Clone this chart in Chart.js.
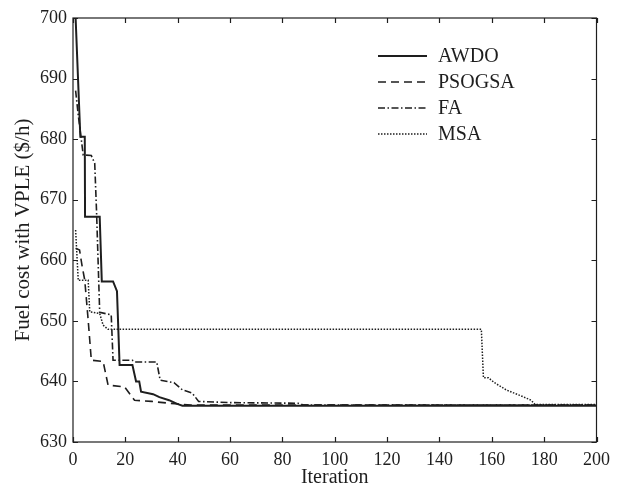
<!DOCTYPE html>
<html>
<head>
<meta charset="utf-8">
<script src="https://cdn.jsdelivr.net/npm/chart.js@4/dist/chart.umd.min.js"></script>
<style>
  html, body { margin: 0; padding: 0; background: #fff; }
</style>
</head>
<body>
<canvas id="chart" width="617" height="487"></canvas>
<script>
// convergence curves (iteration, fuel cost $/h)
const seriesNames = ["AWDO", "PSOGSA", "FA", "MSA"];

const awdoIter = [1, 2.8, 4.5, 4.6, 10.2, 11, 15.3, 16.8, 17.8, 22.7, 24.1, 25.3, 26, 30.6, 33, 36.7, 39.8, 41.8, 200];
const awdoCost = [700, 680.4, 680.4, 667.2, 667.2, 656.5, 656.5, 654.9, 642.7, 642.7, 640, 640, 638.3, 637.9, 637.4, 636.9, 636.3, 636.0, 636.0];

const psoIter = [1, 2.5, 3.5, 4.5, 5.8, 7, 11.5, 13.4, 19.7, 23.5, 30, 36.7, 45, 200];
const psoCost = [662, 661.7, 659, 656.7, 650.1, 643.5, 643.3, 639.4, 639.1, 636.9, 636.7, 636.4, 636.1, 636.1];

const faIter = [1, 2, 3.9, 7, 8.3, 9, 10.2, 14.6, 15.3, 22.7, 23.5, 32, 33.3, 38.6, 41.8, 45.5, 48, 60, 86, 88, 200];
const faCost = [688, 684, 677.4, 677.3, 676, 668, 651.4, 651, 643.5, 643.5, 643.2, 643.2, 640.2, 639.8, 638.6, 638.1, 636.7, 636.5, 636.4, 636.1, 636.1];

const msaIter = [1, 2, 5.8, 6.4, 10.2, 11.5, 13.4, 156, 156.8, 158.7, 161, 165.5, 171.8, 175, 176.5, 200];
const msaCost = [665, 656.7, 656.7, 651.5, 651.2, 649.3, 648.6, 648.6, 640.6, 640.6, 639.8, 638.6, 637.5, 636.9, 636.2, 636.2];

const xTicks = [0, 20, 40, 60, 80, 100, 120, 140, 160, 180, 200];
const yTicks = [630, 640, 650, 660, 670, 680, 690, 700];

const FONT = "'Liberation Serif', 'DejaVu Serif', serif";
const INK = "#1e1e1e";

const pts = (xs, ys) => xs.map((v, i) => ({ x: v, y: ys[i] }));

// frame with inward ticks on all four sides + legend box in the corner
const framePlugin = {
  id: "frame",
  afterDatasetsDraw(chart) {
    const { ctx, chartArea: a, scales: { x, y } } = chart;
    ctx.save();
    ctx.strokeStyle = INK;
    ctx.lineWidth = 1.2;
    ctx.strokeRect(a.left, a.top, a.right - a.left, a.bottom - a.top);

    const len = 5;
    ctx.beginPath();
    xTicks.forEach((v) => {
      const px = Math.round(x.getPixelForValue(v)) + 0.5;
      ctx.moveTo(px, a.bottom); ctx.lineTo(px, a.bottom - len);
      ctx.moveTo(px, a.top); ctx.lineTo(px, a.top + len);
    });
    yTicks.forEach((v) => {
      const py = Math.round(y.getPixelForValue(v)) + 0.5;
      ctx.moveTo(a.left, py); ctx.lineTo(a.left + len, py);
      ctx.moveTo(a.right, py); ctx.lineTo(a.right - len, py);
    });
    ctx.stroke();

    // legend
    ctx.font = "20px " + FONT;
    ctx.textBaseline = "middle";
    ctx.fillStyle = INK;
    chart.data.datasets.forEach((ds, i) => {
      const ly = 56 + i * 26;
      ctx.beginPath();
      ctx.lineWidth = ds.borderWidth;
      ctx.setLineDash(ds.borderDash || []);
      ctx.moveTo(378, ly);
      ctx.lineTo(427, ly);
      ctx.stroke();
      ctx.setLineDash([]);
      ctx.fillText(ds.label, 438, ly + 1);
    });
    ctx.restore();
  },
};

new Chart(document.getElementById("chart"), {
  type: "line",
  data: {
    datasets: [
      { label: seriesNames[0], data: pts(awdoIter, awdoCost), borderColor: INK, borderWidth: 2, borderDash: [] },
      { label: seriesNames[1], data: pts(psoIter, psoCost), borderColor: INK, borderWidth: 1.6, borderDash: [8, 5] },
      { label: seriesNames[2], data: pts(faIter, faCost), borderColor: INK, borderWidth: 1.6, borderDash: [7, 2.5, 1.5, 2.5] },
      { label: seriesNames[3], data: pts(msaIter, msaCost), borderColor: INK, borderWidth: 1.5, borderDash: [1.5, 1.5] },
    ],
  },
  options: {
    responsive: false,
    animation: false,
    elements: { point: { radius: 0 }, line: { tension: 0, borderCapStyle: "butt" } },
    layout: { padding: { top: 18, right: 16, left: 0, bottom: 0 } },
    plugins: { legend: { display: false }, tooltip: { enabled: false } },
    scales: {
      x: {
        type: "linear",
        min: 0,
        max: 200,
        afterBuildTicks: (s) => { s.ticks = xTicks.map((v) => ({ value: v })); },
        afterFit: (s) => { s.height = 45; },
        grid: { display: false, drawTicks: false },
        border: { display: false },
        ticks: { color: INK, font: { family: FONT, size: 18 }, padding: 7, maxRotation: 0 },
        title: { display: true, text: "Iteration", color: INK, font: { family: FONT, size: 20, lineHeight: 1 }, padding: { top: 0, bottom: -1 } },
      },
      y: {
        type: "linear",
        min: 630,
        max: 700,
        afterBuildTicks: (s) => { s.ticks = yTicks.map((v) => ({ value: v })); },
        afterFit: (s) => { s.width = 73; },
        grid: { display: false, drawTicks: false },
        border: { display: false },
        ticks: { color: INK, font: { family: FONT, size: 18 }, padding: 6 },
        title: { display: true, text: "Fuel cost with VPLE ($/h)", color: INK, font: { family: FONT, size: 21, lineHeight: 1 }, padding: { top: 13, bottom: 0 } },
      },
    },
  },
  plugins: [framePlugin],
});
</script>
</body>
</html>
